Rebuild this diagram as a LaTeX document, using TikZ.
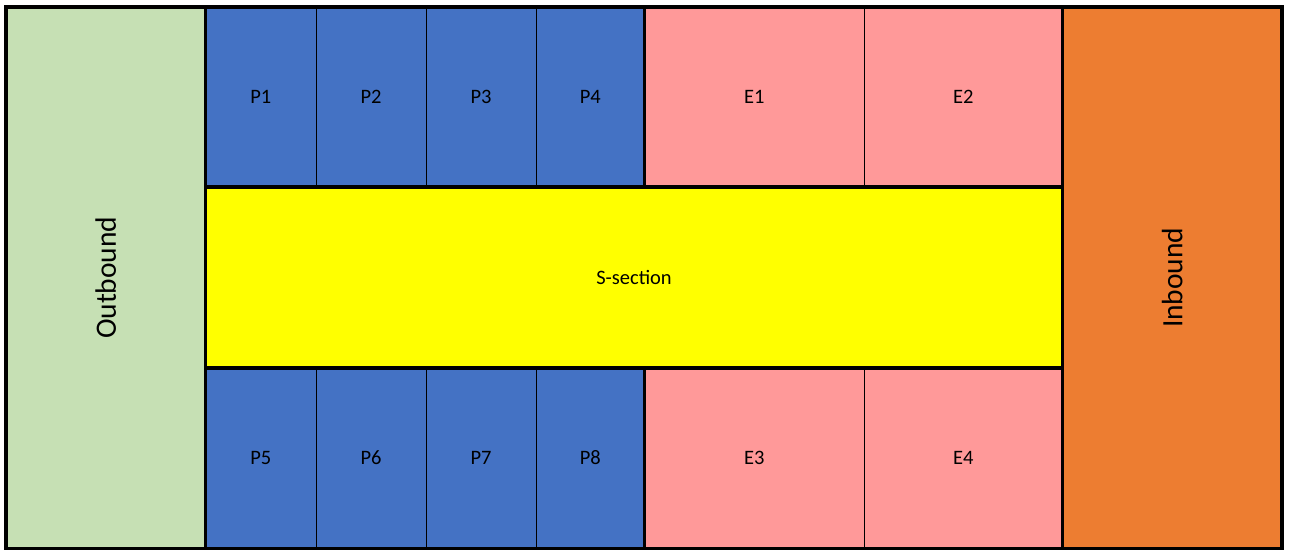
\documentclass[tikz,border=0pt]{standalone}
\usepackage{fontspec}
\setmainfont{Carlito}
\definecolor{outg}{HTML}{C6E0B4}
\definecolor{pblue}{HTML}{4472C4}
\definecolor{epink}{HTML}{FF9999}
\definecolor{syel}{HTML}{FFFF00}
\definecolor{inor}{HTML}{ED7D31}
\begin{document}
\begin{tikzpicture}[x=1pt,y=-1pt,
  cell/.style={draw=black,line width=1pt,inner sep=0pt,outer sep=0pt,
    font=\fontsize{20.5}{23}\selectfont,text height=13pt,text depth=0pt},
  bigbox/.style={draw=black,line width=3.5pt,inner sep=0pt,outer sep=0pt,
    font=\fontsize{20.5}{23}\selectfont},
  sidelabel/.style={rotate=90,inner sep=0pt,font=\fontsize{29.5}{34}\selectfont},
  frame/.style={draw=black,line width=3.5pt}]
\useasboundingbox (0,0) rectangle (1289,554);
\fill[white] (0,0) rectangle (1289,554);
% top row (row height 179.5, centre y 96.75)
\node[cell,fill=pblue,minimum width=110.5pt,minimum height=179.5pt] (p1) at (260.75,96.75) {P1};
\node[cell,fill=pblue,minimum width=110pt,minimum height=179.5pt] (p2) at (371,96.75) {P2};
\node[cell,fill=pblue,minimum width=110pt,minimum height=179.5pt] (p3) at (481,96.75) {P3};
\node[cell,fill=pblue,minimum width=108.5pt,minimum height=179.5pt] (p4) at (590.25,96.75) {P4};
\node[cell,fill=epink,minimum width=219.5pt,minimum height=179.5pt] (e1) at (754.25,96.75) {E1};
\node[cell,fill=epink,minimum width=198.5pt,minimum height=179.5pt] (e2) at (963.25,96.75) {E2};
% bottom row (row height 180.5, centre y 458.25)
\node[cell,fill=pblue,minimum width=110.5pt,minimum height=180.5pt] (p5) at (260.75,458.25) {P5};
\node[cell,fill=pblue,minimum width=110pt,minimum height=180.5pt] (p6) at (371,458.25) {P6};
\node[cell,fill=pblue,minimum width=110pt,minimum height=180.5pt] (p7) at (481,458.25) {P7};
\node[cell,fill=pblue,minimum width=108.5pt,minimum height=180.5pt] (p8) at (590.25,458.25) {P8};
\node[cell,fill=epink,minimum width=219.5pt,minimum height=180.5pt] (e3) at (754.25,458.25) {E3};
\node[cell,fill=epink,minimum width=198.5pt,minimum height=180.5pt] (e4) at (963.25,458.25) {E4};
% middle and sides
\node[bigbox,fill=syel,minimum width=857pt,minimum height=181pt] (s) at (634,277.5) {S-section};
\node[bigbox,fill=outg,minimum width=199.5pt,minimum height=541.5pt] (ob) at (105.75,277.75) {};
\node[bigbox,fill=inor,minimum width=219.5pt,minimum height=541.5pt] (ib) at (1172.25,277.75) {};
\node[sidelabel] (obl) at (ob.center) {Outbound};
\node[sidelabel] (ibl) at (ib.center) {Inbound};
% thick group frames
\draw[frame] (p1.north west) rectangle (p4.south east);
\draw[frame] (e1.north west) rectangle (e2.south east);
\draw[frame] (p5.north west) rectangle (p8.south east);
\draw[frame] (e3.north west) rectangle (e4.south east);
\draw[frame] (s.north west) rectangle (s.south east);
\draw[frame] (ob.north west) rectangle (ob.south east);
\draw[frame] (ib.north west) rectangle (ib.south east);
\end{tikzpicture}
\end{document}
